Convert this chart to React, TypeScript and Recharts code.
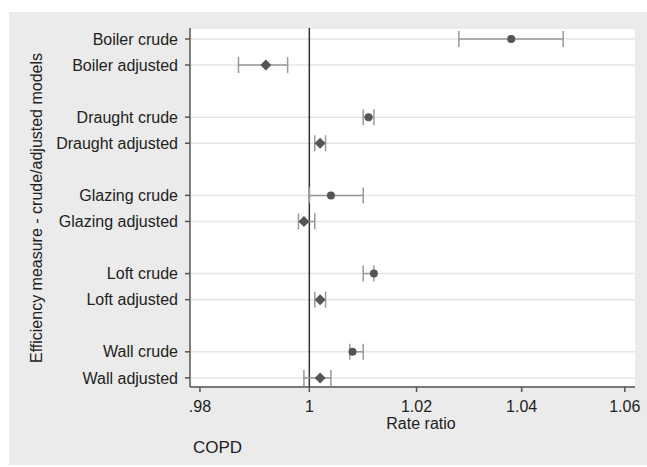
import { ScatterChart, Scatter, XAxis, YAxis, CartesianGrid, ReferenceLine, ErrorBar, Label } from 'recharts';

const rowLabels = [
  'Boiler crude',
  'Boiler adjusted',
  'Draught crude',
  'Draught adjusted',
  'Glazing crude',
  'Glazing adjusted',
  'Loft crude',
  'Loft adjusted',
  'Wall crude',
  'Wall adjusted',
];
const rowPositions = [0, 1, 3, 4, 6, 7, 9, 10, 12, 13];
const estimates = [1.038, 0.992, 1.011, 1.002, 1.004, 0.999, 1.012, 1.002, 1.008, 1.002];
const lower = [1.028, 0.987, 1.010, 1.001, 1.000, 0.998, 1.010, 1.001, 1.0075, 0.999];
const upper = [1.048, 0.996, 1.012, 1.003, 1.010, 1.001, 1.012, 1.003, 1.010, 1.004];
const xTicks = [0.98, 1, 1.02, 1.04, 1.06];

const rows = rowLabels.map((label, i) => ({
  label,
  pos: rowPositions[i],
  rr: estimates[i],
  err: [estimates[i] - lower[i], upper[i] - estimates[i]],
}));
const crude = rows.filter((r) => r.label.endsWith('crude'));
const adjusted = rows.filter((r) => r.label.endsWith('adjusted'));

const markColor = '#555555';
const textColor = '#222222';

const Circle = (props: any) => <circle cx={props.cx} cy={props.cy} r={4} fill={markColor} />;
const Diamond = (props: any) => {
  const { cx, cy } = props;
  const s = 5.5;
  return <polygon points={`${cx},${cy - s} ${cx + s},${cy} ${cx},${cy + s} ${cx - s},${cy}`} fill={markColor} />;
};

export default function App() {
  return (
    <div style={{ position: 'absolute', left: 0, top: 0, width: 647, height: 467, background: '#fff' }}>
      <div style={{ position: 'absolute', left: 9, top: 12, width: 638, height: 453, background: '#ebebeb' }}>
        <ScatterChart
          width={638}
          height={453}
          margin={{ top: 16, right: 12, bottom: 48, left: 0 }}
          style={{ fontFamily: '"Liberation Sans", Arial, sans-serif' }}
        >
          <CartesianGrid vertical={false} fill="#ffffff" stroke="#e6e6e6" strokeWidth={1.5} />
          <XAxis
            type="number"
            dataKey="rr"
            scale="log"
            domain={[0.9782, 1.062]}
            allowDataOverflow
            ticks={xTicks}
            tickFormatter={(v: number) => String(v).replace(/^0/, '')}
            stroke="#555"
            strokeWidth={1.5}
            tickSize={5}
            tickMargin={9}
            height={30}
            tick={{ fill: textColor, fontSize: 16 }}
          >
            <Label
              content={() => (
                <text x={412} y={417} textAnchor="middle" fontSize={16} fill={textColor}>
                  Rate ratio
                </text>
              )}
            />
          </XAxis>
          <YAxis
            type="number"
            dataKey="pos"
            domain={[-0.42, 13.35]}
            allowDataOverflow
            reversed
            ticks={rowPositions}
            interval={0}
            tickFormatter={(v: number) => rowLabels[rowPositions.indexOf(v)] ?? ''}
            stroke="#555"
            strokeWidth={1.5}
            tickSize={5}
            tickMargin={7}
            width={181}
            tick={{ fill: textColor, fontSize: 16 }}
          >
            <Label
              content={() => (
                <text
                  x={33}
                  y={196}
                  textAnchor="middle"
                  fontSize={16}
                  fill={textColor}
                  transform="rotate(-90, 33, 196)"
                >
                  Efficiency measure - crude/adjusted models
                </text>
              )}
            />
          </YAxis>
          <ReferenceLine x={1} stroke="#333" strokeWidth={1.5} />
          <Scatter data={crude} shape={Circle} isAnimationActive={false}>
            <ErrorBar dataKey="err" direction="x" width={8} stroke="#999" strokeWidth={1.5} />
          </Scatter>
          <Scatter data={adjusted} shape={Diamond} isAnimationActive={false}>
            <ErrorBar dataKey="err" direction="x" width={8} stroke="#999" strokeWidth={1.5} />
          </Scatter>
        </ScatterChart>
        <div
          style={{
            position: 'absolute',
            left: 184,
            top: 426,
            fontSize: 17,
            color: textColor,
            fontFamily: '"Liberation Sans", Arial, sans-serif',
          }}
        >
          COPD
        </div>
      </div>
    </div>
  );
}
